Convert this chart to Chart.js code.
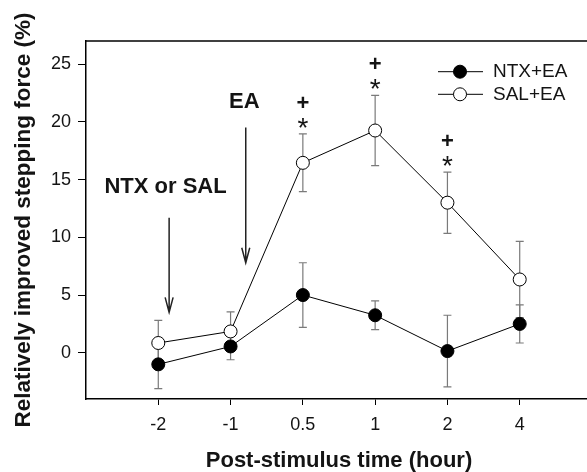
<!DOCTYPE html>
<html>
<head>
<meta charset="utf-8">
<script src="https://cdn.jsdelivr.net/npm/chart.js@4.4.0/dist/chart.umd.min.js"></script>
<style>
  html, body { margin: 0; padding: 0; background: #fff; overflow: hidden; }
  #wrap { width: 600px; height: 472px; }
</style>
</head>
<body>
<div id="wrap"><canvas id="grafico" width="600" height="472"></canvas></div>
<script>
// dados
const tempos = ["-2", "-1", "0.5", "1", "2", "4"];
const ntxMedia = [-1.0, 0.55, 5.0, 3.25, 0.15, 2.5];
const ntxErro = [2.1, 1.15, 2.8, 1.25, 3.1, 1.65];
const salMedia = [0.85, 1.85, 16.45, 19.25, 13.0, 6.35];
const salErro = [1.95, 1.7, 2.5, 3.05, 2.65, 3.3];
const significativo = [false, false, true, true, true, false];
const yTicks = [0, 5, 10, 15, 20, 25];

// setas (em unidades do gráfico)
const setas = [
  { texto: "NTX or SAL", xTexto: 0.1, yTexto: 13.8, x: 0.15, de: 11.7, ate: 3.5 },
  { texto: "EA", xTexto: 1.19, yTexto: 21.2, x: 1.21, de: 19.5, ate: 7.8 }
];

const FONTE = "'Liberation Sans', Arial, sans-serif";
const COR_TEXTO = "#141414";
Chart.defaults.font.family = FONTE;
Chart.defaults.color = COR_TEXTO;

function pontos(medias) {
  return medias.map((v, i) => ({ x: i, y: v }));
}

// barras de erro (atrás dos marcadores)
const barrasErro = {
  id: "barrasErro",
  beforeDatasetsDraw(chart) {
    const { ctx, scales: { x, y } } = chart;
    const series = [[ntxMedia, ntxErro], [salMedia, salErro]];
    ctx.save();
    ctx.strokeStyle = "#7a7a7a";
    ctx.lineWidth = 1.2;
    series.forEach(([medias, erros]) => {
      medias.forEach((m, i) => {
        const px = x.getPixelForValue(i);
        const yTop = y.getPixelForValue(m + erros[i]);
        const yBot = y.getPixelForValue(m - erros[i]);
        ctx.beginPath();
        ctx.moveTo(px, yTop); ctx.lineTo(px, yBot);
        ctx.moveTo(px - 4, yTop); ctx.lineTo(px + 4, yTop);
        ctx.moveTo(px - 4, yBot); ctx.lineTo(px + 4, yBot);
        ctx.stroke();
      });
    });
    ctx.restore();
  }
};

function textoCentrado(ctx, txt, cx, cy) {
  const m = ctx.measureText(txt);
  const base = cy + (m.actualBoundingBoxAscent - m.actualBoundingBoxDescent) / 2;
  ctx.fillText(txt, cx, base);
}

// anotações: + e *, setas, legenda, borda de cima
const anotacoes = {
  id: "anotacoes",
  afterDraw(chart) {
    const { ctx, chartArea, scales: { x, y } } = chart;
    ctx.save();

    // borda de cima
    ctx.strokeStyle = "#000";
    ctx.lineWidth = 1.5;
    ctx.beginPath();
    ctx.moveTo(chartArea.left, chartArea.top);
    ctx.lineTo(chartArea.right, chartArea.top);
    ctx.stroke();

    // marcas de significância
    ctx.fillStyle = COR_TEXTO;
    ctx.textAlign = "center";
    significativo.forEach((s, i) => {
      if (!s) return;
      const px = x.getPixelForValue(i);
      const topo = y.getPixelForValue(salMedia[i] + salErro[i]);
      ctx.font = "28px " + FONTE;
      textoCentrado(ctx, "*", px, topo - 11);
      ctx.font = "bold 22px " + FONTE;
      textoCentrado(ctx, "+", px, topo - 32);
    });

    // setas
    ctx.strokeStyle = "#222";
    ctx.lineWidth = 1.5;
    setas.forEach(s => {
      ctx.font = "bold 22px " + FONTE;
      ctx.textBaseline = "alphabetic";
      ctx.fillText(s.texto, x.getPixelForValue(s.xTexto), y.getPixelForValue(s.yTexto));
      const px = x.getPixelForValue(s.x);
      const y1 = y.getPixelForValue(s.de);
      const y2 = y.getPixelForValue(s.ate);
      ctx.beginPath();
      ctx.moveTo(px, y1); ctx.lineTo(px, y2);
      ctx.moveTo(px - 4, y2 - 15); ctx.lineTo(px, y2); ctx.lineTo(px + 4, y2 - 15);
      ctx.stroke();
    });

    // legenda
    const itens = [
      { nome: "NTX+EA", fundo: "#000", y: 71.7 },
      { nome: "SAL+EA", fundo: "#fff", y: 94.3 }
    ];
    ctx.font = "19px " + FONTE;
    ctx.textAlign = "left";
    ctx.textBaseline = "middle";
    itens.forEach(it => {
      ctx.strokeStyle = "#000";
      ctx.lineWidth = 1;
      ctx.beginPath();
      ctx.moveTo(438, it.y); ctx.lineTo(483, it.y);
      ctx.stroke();
      ctx.beginPath();
      ctx.arc(460, it.y, 6.5, 0, Math.PI * 2);
      ctx.fillStyle = it.fundo;
      ctx.fill();
      ctx.stroke();
      ctx.fillStyle = COR_TEXTO;
      ctx.fillText(it.nome, 493, it.y);
    });

    ctx.restore();
  }
};

new Chart(document.getElementById("grafico"), {
  type: "line",
  data: {
    datasets: [
      {
        label: "NTX+EA",
        data: pontos(ntxMedia),
        borderColor: "#000",
        borderWidth: 1,
        pointRadius: 6.5,
        pointBackgroundColor: "#000",
        pointBorderColor: "#000",
        pointBorderWidth: 1,
        tension: 0
      },
      {
        label: "SAL+EA",
        data: pontos(salMedia),
        borderColor: "#000",
        borderWidth: 1,
        pointRadius: 6.5,
        pointBackgroundColor: "#fff",
        pointBorderColor: "#000",
        pointBorderWidth: 1,
        tension: 0
      }
    ]
  },
  options: {
    responsive: false,
    animation: false,
    layout: { padding: { left: 0, top: 41, right: 8, bottom: 0 } },
    plugins: { legend: { display: false }, tooltip: { enabled: false } },
    scales: {
      x: {
        type: "linear",
        min: -1,
        max: 6,
        afterBuildTicks: s => { s.ticks = tempos.map((_, i) => ({ value: i })); },
        afterFit: s => { s.height = 73; },
        ticks: { callback: v => tempos[v], font: { size: 18 }, padding: 9, maxRotation: 0, autoSkip: false },
        grid: { drawOnChartArea: false, drawTicks: true, tickLength: 6, color: "#000", lineWidth: 1 },
        border: { display: true, color: "#000", width: 1.5 },
        title: { display: true, text: "Post-stimulus time (hour)", font: { size: 22, weight: "bold", lineHeight: 1 }, padding: 0 }
      },
      y: {
        min: -4,
        max: 27,
        afterBuildTicks: s => { s.ticks = yTicks.map(v => ({ value: v })); },
        afterFit: s => { s.width = 86; },
        ticks: { font: { size: 18 }, padding: 7 },
        grid: { drawOnChartArea: false, drawTicks: true, tickLength: 8, color: "#000", lineWidth: 1 },
        border: { display: true, color: "#000", width: 1.5 },
        title: { display: true, text: "Relatively improved stepping force (%)", font: { size: 22.5, weight: "bold", lineHeight: 1 }, padding: { top: 13, bottom: 0 } }
      }
    }
  },
  plugins: [barrasErro, anotacoes]
});
</script>
</body>
</html>
